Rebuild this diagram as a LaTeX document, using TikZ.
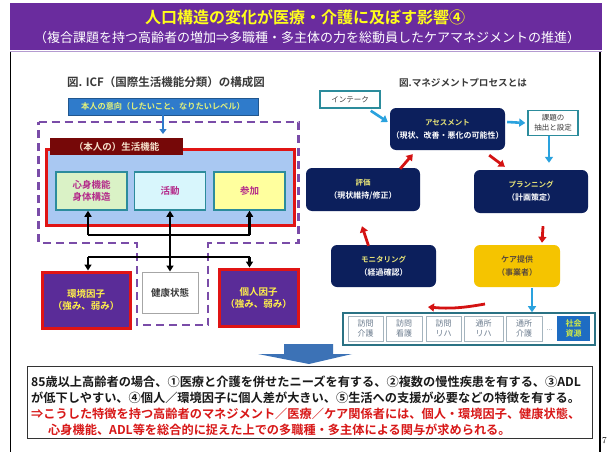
\documentclass[tikz,border=0pt]{standalone}
\usepackage{fontspec}
\newfontfamily\jp[BoldFont={Noto Sans CJK JP Bold}]{Noto Sans CJK JP}
\usetikzlibrary{arrows.meta}
\newcommand{\jfs}[2]{\fontsize{#1}{#2}\selectfont}
\definecolor{hdr}{HTML}{6A2C9E}
\definecolor{hdrlt}{HTML}{B49BD0}
\definecolor{ttl}{HTML}{FFFF1A}
\definecolor{intentblue}{HTML}{2F7BCB}
\definecolor{intenttxt}{HTML}{E4F27A}
\definecolor{pdash}{HTML}{7A4CA8}
\definecolor{redb}{HTML}{E01414}
\definecolor{lblue}{HTML}{A9C8F2}
\definecolor{dred}{HTML}{760808}
\definecolor{lbltxt}{HTML}{F6E2CC}
\definecolor{g1}{HTML}{DAF2C6}
\definecolor{c1}{HTML}{D8F6FC}
\definecolor{y1}{HTML}{FFFF9E}
\definecolor{teal}{HTML}{2C8C9C}
\definecolor{mag}{HTML}{B42A8A}
\definecolor{fpurple}{HTML}{5A2C98}
\definecolor{fytxt}{HTML}{FFF04A}
\definecolor{navy}{HTML}{0C1F5C}
\definecolor{navyttl}{HTML}{E8E478}
\definecolor{gold}{HTML}{F5C400}
\definecolor{goldtxt}{HTML}{5A4A3A}
\definecolor{lbarr}{HTML}{2AA2DE}
\definecolor{redarr}{HTML}{D41212}
\definecolor{svcedge}{HTML}{2A7284}
\definecolor{svcin}{HTML}{A4B4BE}
\definecolor{svctxt}{HTML}{6C7C8E}
\definecolor{socblue}{HTML}{1E6CC2}
\definecolor{soctxt}{HTML}{D4EC44}
\definecolor{bigblue}{HTML}{3C72B6}
\definecolor{notered}{HTML}{D81818}
\definecolor{greytxt}{HTML}{3A3A3A}
\tikzset{
  icfbox/.style={draw=teal, line width=1.5pt, minimum width=71pt, minimum height=38pt, inner sep=0pt,
    align=center, text=mag, font=\jp\bfseries\jfs{9.5}{12}},
  factor/.style={draw=redb, line width=3pt, fill=fpurple, inner sep=0pt, align=center,
    text=fytxt, font=\jp\bfseries\jfs{9.5}{12}},
  healthbox/.style={draw=gray!70, line width=1pt, fill=white, inner sep=0pt, text=greytxt,
    font=\jp\bfseries\jfs{9.5}{12}, minimum width=56pt, minimum height=41pt},
  blk/.style={line width=2.2pt, black},
  blkhead/.style={-{Triangle[length=6pt,width=7pt]}},
  navybox/.style={fill=navy, rounded corners=6pt, inner sep=0pt, align=center, text=white,
    font=\jp\bfseries\jfs{8}{13}},
  wbox/.style={draw=teal, line width=1.5pt, fill=white, inner sep=0pt, align=center, text=greytxt,
    font=\jp\jfs{7.5}{10}},
  lbarrow/.style={draw=lbarr, line width=2.6pt, -{Triangle[length=6pt,width=8pt]}},
  redarrow/.style={draw=redarr, line width=2.8pt, -{Triangle[length=6pt,width=8pt]}},
  svcitem/.style={draw=svcin, line width=0.8pt, fill=white, inner sep=0pt, minimum height=25pt,
    align=center, text=svctxt, font=\jp\jfs{8}{10}},
  noteline/.style={anchor=west, inner sep=0pt, font=\jp\bfseries\jfs{12.2}{14}}
}
\begin{document}
\begin{tikzpicture}[x=1pt,y=-1pt]
\useasboundingbox (0,0) rectangle (609,452);
\fill[white] (0,0) rectangle (609,452);

% ---------- header ----------
\node[fill=hdr, minimum width=592pt, minimum height=47pt, inner sep=0pt, anchor=north west] (hdr) at (10,3) {};
\node[text=ttl, font=\jp\bfseries\jfs{16}{16}] (title) at (305,17) {人口構造の変化が医療・介護に及ぼす影響④};
\node[text=white, font=\jp\jfs{13}{13}] (subtitle) at (307,38) {（複合課題を持つ高齢者の増加⇒多職種・多主体の力を総動員したケアマネジメントの推進）};
\draw[hdrlt, line width=1.5pt] (10,51.5) -- (602,51.5);
\draw[black, line width=1.2pt] (10.5,52) -- (10.5,452);
\draw[black, line width=1.2pt] (600,52) -- (600,452);

% ---------- left: ICF ----------
\node[text=greytxt, font=\jp\bfseries\jfs{11.5}{12}] (icftitle) at (166,82) {図. ICF（国際生活機能分類）の構成図};
\node[fill=intentblue, draw=intentblue!70!black, line width=0.6pt, minimum width=190pt, minimum height=17pt, inner sep=0pt,
  text=intenttxt, font=\jp\bfseries\jfs{8.2}{9}] (intent) at (163,106.5) {本人の意向（したいこと、なりたいレベル）};
\draw[pdash, line width=2.6pt, dash pattern=on 8pt off 5pt]
  (38.5,122) -- (298.5,122) -- (298.5,243) -- (208,243) -- (208,325) -- (137,325) -- (137,243) -- (38.5,243) -- cycle;
\node[draw=redb, line width=3pt, fill=lblue, minimum width=248pt, minimum height=76pt, inner sep=0pt, anchor=north west] (life) at (45,148) {};
\node[fill=dred, minimum width=133pt, minimum height=17pt, inner sep=0pt, anchor=north west,
  text=lbltxt, font=\jp\bfseries\jfs{9.5}{10}] (lifelbl) at (50,138) {（本人の）生活機能};
\draw[intentblue, line width=2.6pt, -{Triangle[length=5pt,width=7pt]}, shorten >=4pt] (intent.south) -- (intent.south |- lifelbl.north);

\node[icfbox, fill=g1] (body) at (91.5,191) {心身機能\\身体構造};
\node[icfbox, fill=c1] (act) at (170,191) {活動};
\node[icfbox, fill=y1] (part) at (249.5,191) {参加};

\node[factor, minimum width=88pt, minimum height=56pt] (env) at (86,300) {環境因子\\（強み、弱み）};
\node[healthbox] (health) at (170,292.5) {健康状態};
\node[factor, minimum width=79pt, minimum height=57pt] (pers) at (258.5,297.5) {個人因子\\（強み、弱み）};

\coordinate (hl) at (170,235);
\coordinate (hl2) at (170,257);
\draw[blk] ([xshift=-3.5pt]body.south |- hl) -- (part.south |- hl);
\draw[blk, blkhead] ([xshift=-3.5pt]body.south |- hl) -- ([xshift=-3.5pt]body.south);
\draw[blk, blkhead] (part.south |- hl) -- (part.south);
\draw[blk, {Triangle[length=6pt,width=7pt]}-{Triangle[length=6pt,width=7pt]}] (act.south) -- (health.north);
\draw[blk] ([xshift=-3.5pt]body.south |- hl2) -- (part.south |- hl2);
\draw[blk, blkhead] ([xshift=-3.5pt]body.south |- hl2) -- ([xshift=-3.5pt]body.south |- env.north);
\draw[blk, blkhead] (part.south |- hl2) -- (part.south |- pers.north);

% ---------- right: management process ----------
\node[text=greytxt, font=\jp\bfseries\jfs{9.6}{10}] (mgtitle) at (463,83) {図.マネジメントプロセスとは};
\node[wbox, minimum width=60pt, minimum height=17pt] (intake) at (350,99.5) {インテーク};
\node[navybox, minimum width=115pt, minimum height=42pt] (assess) at (447.5,129) {{\color{navyttl}\jfs{7.5}{13}アセスメント}\\（現状、改善・悪化の可能性）};
\node[wbox, minimum width=50pt, minimum height=25pt] (issue) at (553,123) {課題の\\抽出と設定};
\node[navybox, minimum width=114pt, minimum height=43pt] (plan) at (531,191.5) {{\color{navyttl}\jfs{7.5}{13}プランニング}\\（計画策定）};
\node[navybox, minimum width=114pt, minimum height=43pt] (eval) at (363,189.5) {{\color{navyttl}\jfs{7.5}{13}評価}\\（現状維持/修正）};
\node[navybox, minimum width=105pt, minimum height=42pt] (mon) at (383.5,266) {{\color{navyttl}\jfs{7.5}{13}モニタリング}\\（経過確認）};
\node[navybox, fill=gold, text=goldtxt, minimum width=86pt, minimum height=42pt] (care) at (517,266) {ケア提供\\（事業者）};

\draw[lbarrow] ([xshift=-10pt,yshift=-2pt]intake.south east) -- ([xshift=-2pt,yshift=7pt]assess.west);
\draw[lbarrow] ([xshift=2pt,yshift=7pt]assess.east) -- ([xshift=-2pt]issue.west);
\draw[lbarrow] ([xshift=-4pt]issue.south) -- ([xshift=-4pt,yshift=7pt]issue.south |- plan.north);

\draw[redarrow] ([xshift=-16pt,yshift=-5pt]assess.south east) -- ([xshift=31pt,yshift=3pt]plan.north west);
\draw[redarrow] ([xshift=-20pt,yshift=-1pt]eval.north east) -- ([xshift=23pt,yshift=-4pt]assess.south west);
\draw[redarrow] ([xshift=-15pt,yshift=-1pt]mon.north) -- ([xshift=-1pt,yshift=-15pt]eval.south);
\draw[redarrow] ([xshift=12pt,yshift=-13pt]plan.south) -- ([xshift=25pt,yshift=2pt]care.north);

% services
\fill[bigblue] (284,344) -- (333,344) -- (333,354) -- (352,354) -- (309,364) -- (258,354) -- (284,354) -- cycle;
\node[draw=svcedge, line width=1.6pt, fill=white, minimum width=252pt, minimum height=32pt, inner sep=0pt] (svc) at (469,329) {};
\node[svcitem, minimum width=35pt] (v1) at (365.5,328.5) {訪問\\介護};
\node[svcitem, minimum width=36pt] (v2) at (404,328.5) {訪問\\看護};
\node[svcitem, minimum width=35pt] (v3) at (443.5,328.5) {訪問\\リハ};
\node[svcitem, minimum width=39pt] (v4) at (483.5,328.5) {通所\\リハ};
\node[svcitem, minimum width=36pt] (v5) at (524,328.5) {通所\\介護};
\node[text=svctxt, font=\jp\jfs{7}{8}, inner sep=0pt] (dots) at (549.5,330) {...};
\node[svcitem, draw=none, fill=socblue, text=soctxt, font=\jp\bfseries\jfs{8}{10}, minimum width=33pt] (soc) at (573.5,328.5) {社会\\資源};

\draw[lbarrow] ([xshift=15pt,yshift=-1pt]care.south) -- ([xshift=15pt]care.south |- svc.north);
\coordinate (cr1) at (485,304);
\coordinate (cr2) at (428,307);
\draw[redarrow] (cr1) to[out=190, in=-5] (cr2);

% ---------- bottom note ----------
\node[draw=black!80, line width=1pt, fill=white, minimum width=565pt, minimum height=72pt, inner sep=0pt, anchor=north west] (note) at (27,366) {};
\node[noteline, text=black!90] (n1) at (31,382) {85歳以上高齢者の場合、①医療と介護を併せたニーズを有する、②複数の慢性疾患を有する、③ADL};
\node[noteline, text=black!90] (n2) at (31,398) {が低下しやすい、④個人／環境因子に個人差が大きい、⑤生活への支援が必要などの特徴を有する。};
\node[noteline, text=notered] (n3) at (31,414) {⇒こうした特徴を持つ高齢者のマネジメント／医療／ケア関係者には、個人・環境因子、健康状態、};
\node[noteline, text=notered] (n4) at (48,430) {心身機能、ADL等を総合的に捉えた上での多職種・多主体による関与が求められる。};
\node[font=\jfs{9}{9}, inner sep=0pt] (pg) at (604.5,441) {7};
\end{tikzpicture}
\end{document}
